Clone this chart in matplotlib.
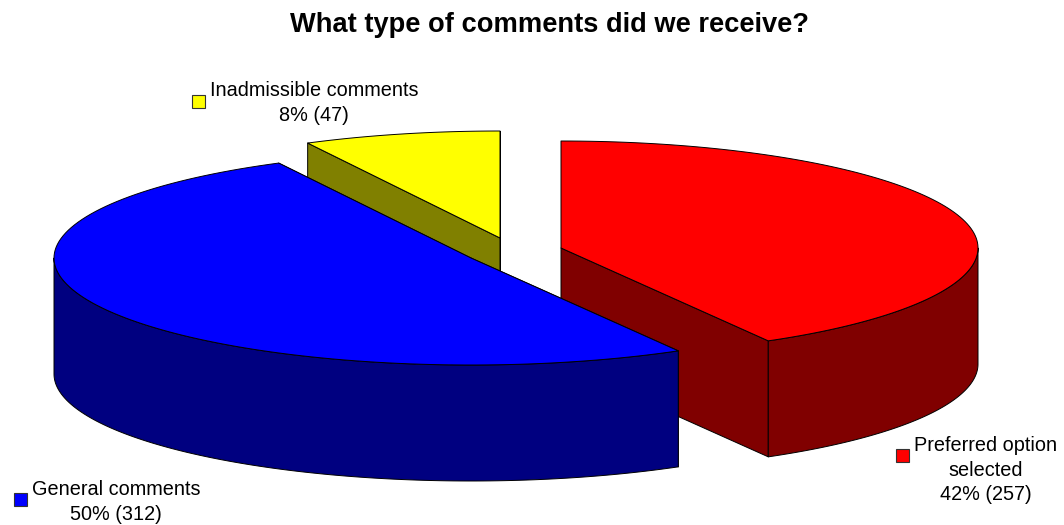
import numpy as np
import matplotlib
matplotlib.use("Agg")
import matplotlib.pyplot as plt
from matplotlib.patches import Polygon, Rectangle

plt.rcParams['font.family'] = ['Liberation Sans', 'DejaVu Sans']

title = "What type of comments did we receive?"
categories = ["Preferred option\nselected", "General comments", "Inadmissible comments"]
counts = [257, 312, 47]
percents = ["42%", "50%", "8%"]
top_colors = ["#ff0000", "#0000ff", "#ffff00"]
side_colors = ["#800000", "#000080", "#808000"]

RX, RY = 417, 107
DEPTH = 116
# apex of each exploded slice, in pixels
apex = [(561, 248), (471, 258), (500, 238)]
label_pos = [(986, 470), (116, 502), (314, 103)]
swatch_pos = [(902, 455), (20, 499), (198, 101)]


def rim(cx, cy, a0, a1, n=120):
    # points on the ellipse, angles clockwise from 12 o'clock
    a = np.radians(np.linspace(a0, a1, n))
    return np.column_stack([cx + RX * np.sin(a), cy - RY * np.cos(a)])


def draw_slice(ax, center, a0, a1, top, side):
    cx, cy = center
    c = np.array([cx, cy])
    pts = rim(cx, cy, a0, a1)
    down = np.array([0, DEPTH])
    kw = dict(edgecolor="black", linewidth=0.7, joinstyle="round")

    # both cut faces, whatever faces away ends up under the top and wall
    for end in (pts[0], pts[-1]):
        face = np.array([c, end, end + down, c + down])
        ax.add_patch(Polygon(face, facecolor=side, **kw))

    # outer wall, only the part below the ellipse's widest line
    lo = max(a0, 90)
    hi = min(a1, 270)
    if hi > lo:
        wall = rim(cx, cy, lo, hi)
        ax.add_patch(Polygon(np.vstack([wall, (wall + down)[::-1]]), facecolor=side, **kw))

    ax.add_patch(Polygon(np.vstack([c, pts]), facecolor=top, **kw))


fig = plt.figure(figsize=(10.64, 5.25), dpi=100)
ax = fig.add_axes([0, 0, 1, 1])
ax.set_xlim(0, 1064)
ax.set_ylim(525, 0)
ax.axis("off")

total = sum(counts)
edges = np.concatenate([[0], np.cumsum(counts)]) / total * 360

# back to front: yellow, red, blue
for i in (2, 0, 1):
    draw_slice(ax, apex[i], edges[i], edges[i + 1], top_colors[i], side_colors[i])

ax.text(549, 25, title, ha="center", va="center", fontsize=19.6, fontweight="bold", color="black")

for i in range(3):
    ax.text(label_pos[i][0], label_pos[i][1], f"{categories[i]}\n{percents[i]} ({counts[i]})",
            ha="center", va="center", fontsize=14.3, linespacing=1.34, color="black")
    sx, sy = swatch_pos[i]
    ax.add_patch(Rectangle((sx - 6.5, sy - 6.5), 13, 13, facecolor=top_colors[i],
                           edgecolor="#333333", linewidth=0.8))

fig.savefig("out.png", dpi=100, facecolor="white")
